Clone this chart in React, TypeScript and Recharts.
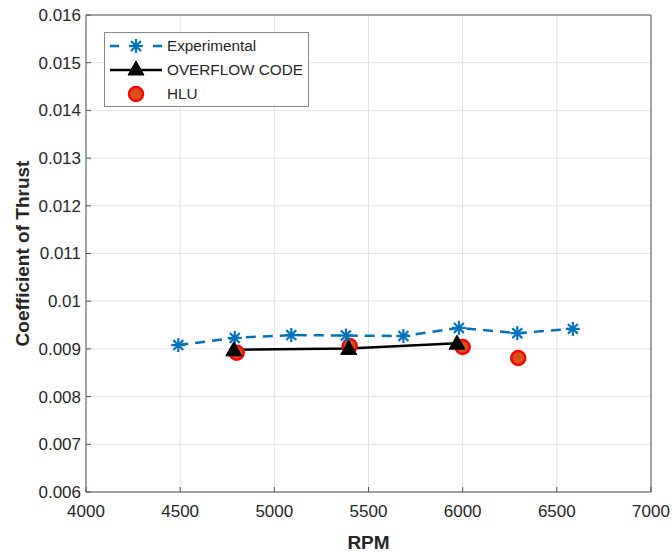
import React from 'react';
import { ComposedChart, Line, Scatter, XAxis, YAxis, CartesianGrid, ReferenceLine, Legend, Label } from 'recharts';

const expRpm = [4490, 4790, 5090, 5380, 5685, 5980, 6290, 6585];
const expCt = [0.00908, 0.00923, 0.00929, 0.00928, 0.00927, 0.00944, 0.00933, 0.00942];
const ovfRpm = [4785, 5395, 5970];
const ovfCt = [0.00898, 0.00901, 0.00912];
const hluRpm = [4800, 5400, 6000, 6295];
const hluCt = [0.00892, 0.00906, 0.00904, 0.00881];
const xTicks = [4000, 4500, 5000, 5500, 6000, 6500, 7000];
const yTicks = [0.006, 0.007, 0.008, 0.009, 0.01, 0.011, 0.012, 0.013, 0.014, 0.015, 0.016];
const seriesNames = ['Experimental', 'OVERFLOW CODE', 'HLU'];

const expData = expRpm.map((r, i) => ({ rpm: r, ct: expCt[i] }));
const ovfData = ovfRpm.map((r, i) => ({ rpm: r, ct: ovfCt[i] }));
const hluData = hluRpm.map((r, i) => ({ rpm: r, ct: hluCt[i] }));

const BLUE = '#0072BD';
const FONT = '"Liberation Sans", Arial, sans-serif';
const TICK_COLOR = '#262626';

const Star = (props: any) => {
  const { cx, cy } = props;
  if (cx == null || cy == null) return null;
  const r = 7;
  const d = r * 0.7071;
  return (
    <g stroke={BLUE} strokeWidth={2.2}>
      <line x1={cx - r} y1={cy} x2={cx + r} y2={cy} />
      <line x1={cx} y1={cy - r} x2={cx} y2={cy + r} />
      <line x1={cx - d} y1={cy - d} x2={cx + d} y2={cy + d} />
      <line x1={cx - d} y1={cy + d} x2={cx + d} y2={cy - d} />
    </g>
  );
};

const Tri = (props: any) => {
  const { cx, cy } = props;
  if (cx == null || cy == null) return null;
  const s = 8;
  return <polygon points={`${cx},${cy - s} ${cx - s},${cy + s * 0.75} ${cx + s},${cy + s * 0.75}`} fill="#000" stroke="#000" strokeWidth={1} />;
};

const Circ = (props: any) => {
  const { cx, cy } = props;
  if (cx == null || cy == null) return null;
  return <circle cx={cx} cy={cy} r={7} fill="#D95319" stroke="#FF0000" strokeWidth={2.5} />;
};

const XTick = (props: any) => {
  const { x, y, payload } = props;
  return (
    <g>
      <line x1={x} y1={y} x2={x} y2={y - 5} stroke="#555" strokeWidth={1} />
      <text x={x} y={y + 25} textAnchor="middle" fill={TICK_COLOR} fontSize={17} fontFamily={FONT}>{payload.value}</text>
    </g>
  );
};

const YTick = (props: any) => {
  const { x, y, payload } = props;
  return (
    <g>
      <line x1={x} y1={y} x2={x + 5} y2={y} stroke="#555" strokeWidth={1} />
      <text x={x - 5} y={y} dy="0.35em" textAnchor="end" fill={TICK_COLOR} fontSize={17} fontFamily={FONT}>{String(payload.value)}</text>
    </g>
  );
};

const LegendBox = () => (
  <div style={{ width: 205, height: 75, border: '1px solid #888', background: '#fff', boxSizing: 'border-box', fontFamily: FONT, color: TICK_COLOR }}>
    <svg width={203} height={73} style={{ display: 'block' }}>
      <g>
        <line x1={5} y1={13} x2={57} y2={13} stroke={BLUE} strokeWidth={2.5} strokeDasharray="9 34" />
        <Star cx={31} cy={13} />
        <text x={62} y={13} dy="0.35em" fill={TICK_COLOR} fontSize={15.3} fontFamily={FONT}>{seriesNames[0]}</text>
      </g>
      <g>
        <line x1={5} y1={37} x2={57} y2={37} stroke="#000" strokeWidth={2.5} />
        <Tri cx={31} cy={36} />
        <text x={62} y={37} dy="0.35em" fill={TICK_COLOR} fontSize={15.3} fontFamily={FONT}>{seriesNames[1]}</text>
      </g>
      <g>
        <Circ cx={31} cy={61} />
        <text x={62} y={61} dy="0.35em" fill={TICK_COLOR} fontSize={15.3} fontFamily={FONT}>{seriesNames[2]}</text>
      </g>
    </svg>
  </div>
);

export default function App() {
  return (
    <div style={{ position: 'absolute', left: 0, top: 0, background: '#fff' }}>
      <ComposedChart width={672} height={552} margin={{ top: 15, right: 21, bottom: 0, left: 0 }}>
        <CartesianGrid stroke="#e3e3e3" strokeWidth={1} horizontalValues={yTicks} verticalValues={xTicks} />
        <XAxis
          dataKey="rpm"
          type="number"
          domain={[4000, 7000]}
          ticks={xTicks}
          allowDataOverflow
          height={60}
          tickSize={0}
          tickMargin={0}
          tickLine={false}
          stroke="#555"
          tick={<XTick />}
        >
          <Label value="RPM" position="insideBottom" offset={3} style={{ fontFamily: FONT, fontWeight: 'bold', fontSize: 19, fill: TICK_COLOR }} />
        </XAxis>
        <YAxis
          type="number"
          domain={[0.006, 0.016]}
          ticks={yTicks}
          allowDataOverflow
          width={86}
          tickSize={0}
          tickMargin={0}
          tickLine={false}
          stroke="#555"
          tick={<YTick />}
        >
          <Label value="Coefficient of Thrust" angle={-90} position="insideLeft" offset={22} style={{ textAnchor: 'middle', fontFamily: FONT, fontWeight: 'bold', fontSize: 19, fill: TICK_COLOR }} />
        </YAxis>
        <ReferenceLine y={0.016} stroke="#555" strokeWidth={1} />
        <ReferenceLine x={7000} stroke="#555" strokeWidth={1} />
        <Line data={expData} dataKey="ct" name={seriesNames[0]} stroke={BLUE} strokeWidth={2.5} strokeDasharray="10 7" dot={<Star />} activeDot={false} isAnimationActive={false} legendType="none" />
        <Line data={ovfData} dataKey="ct" name={seriesNames[1]} stroke="#000" strokeWidth={2.5} dot={<Tri />} activeDot={false} isAnimationActive={false} legendType="none" />
        <Scatter data={hluData} dataKey="ct" name={seriesNames[2]} shape={<Circ />} isAnimationActive={false} legendType="none" />
        <Legend layout="vertical" align="center" verticalAlign="middle" content={<LegendBox />} wrapperStyle={{ position: 'absolute', left: 104, top: 32, width: 205, height: 75 }} />
      </ComposedChart>
    </div>
  );
}
